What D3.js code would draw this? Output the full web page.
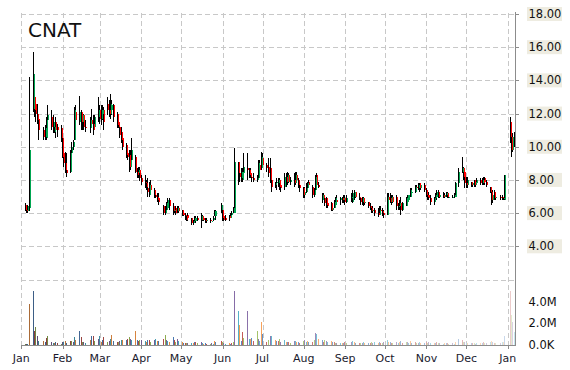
<!DOCTYPE html>
<html>
<head>
<meta charset="utf-8">
<script src="https://cdn.jsdelivr.net/npm/d3@7"></script>
<style>
  body { margin: 0; background: #fff; }
  svg { display: block; }
  text { font-family: "DejaVu Sans", Verdana, sans-serif; }
</style>
</head>
<body>
<svg id="chart" width="570" height="370"></svg>
<script>
const ticker = "CNAT";
const monthLabels = ["Jan", "Feb", "Mar", "Apr", "May", "Jun", "Jul", "Aug", "Sep", "Oct", "Nov", "Dec", "Jan"];
const priceTicks = [4, 6, 8, 10, 12, 14, 16, 18];
const priceGrid = [2, 4, 6, 8, 10, 12, 14, 16, 18];
const volumeTicks = [0, 2, 4];
const volumeTickLabels = ["0.0K", "2.0M", "4.0M"];

// [day, open, high, low, close, volume (millions)]
const jan17 = [[3,6.5,6.6,6.1,6.2,0.12],[4,6.2,6.3,6.0,6.1,0.1],[5,6.1,6.5,6.0,6.4,0.1],[6,6.3,14.2,6.1,9.8,3.8],[9,12.3,15.7,12.1,14.4,5.0],[10,13.0,13.3,11.8,12.2,1.3],[11,12.6,13.0,11.5,12.0,1.66],[12,12.0,12.6,11.4,11.6,0.83],[13,11.7,12.0,10.4,11.0,0.35],[17,11.0,11.2,10.4,10.6,0.4],[18,10.6,11.3,10.4,11.1,0.3],[19,10.5,11.8,10.4,11.6,0.65],[20,11.6,12.5,11.1,11.9,0.8],[23,11.8,12.2,11.0,11.2,0.3],[24,11.2,11.9,10.8,11.5,0.2],[25,10.9,11.3,10.8,11.2,0.15],[26,11.5,11.8,10.5,11.0,0.25],[27,11.2,11.4,10.6,11.0,0.15],[30,11.1,11.3,10.3,10.5,0.12],[31,10.5,10.6,9.3,9.4,0.3]];
const feb17 = [[1,9.6,10.2,8.8,9.0,0.3],[2,9.0,9.7,8.4,8.6,0.35],[3,8.6,9.6,8.2,8.4,0.2],[6,8.5,9.8,8.4,9.6,0.4],[7,9.6,10.3,9.3,10.0,0.35],[8,10.0,10.4,9.8,10.3,0.3],[9,10.4,12.4,10.4,12.2,0.7],[10,12.1,12.5,11.1,11.6,0.45],[13,11.5,13.05,11.3,12.1,1.3],[14,12.1,12.2,11.0,11.5,0.7],[15,11.5,12.1,11.0,11.9,0.3],[16,11.9,12.0,11.0,11.2,0.25],[17,11.2,11.6,10.9,11.1,0.2],[21,11.1,11.8,10.8,11.6,0.5],[22,11.6,12.3,11.2,11.4,0.85],[23,11.4,11.9,10.7,11.0,0.85],[24,11.2,11.9,11.0,11.8,0.4],[27,11.8,13.0,11.5,12.2,0.6],[28,12.2,12.5,11.4,11.7,0.85]];
const mar17 = [[1,11.7,12.5,11.3,12.2,0.3],[2,12.0,12.5,11.6,12.2,0.45],[3,12.2,12.4,11.0,11.5,0.7],[6,12.6,13.0,11.9,12.2,0.3],[7,12.2,12.8,11.8,12.0,0.4],[8,12.0,13.2,11.7,12.6,0.55],[9,12.2,12.8,11.9,12.5,0.9],[10,12.5,12.6,11.5,11.8,0.35],[13,12.0,12.1,11.1,11.3,0.3],[14,11.5,11.9,11.1,11.2,0.25],[15,11.2,11.5,10.5,10.7,0.4],[16,10.9,11.2,10.2,10.4,0.5],[17,10.5,10.7,9.8,10.0,0.45],[20,10.1,10.2,9.3,9.5,0.5],[21,9.6,10.0,9.2,9.4,0.55],[22,9.5,9.8,8.5,8.8,0.7],[23,8.8,9.8,8.6,9.2,0.6],[24,9.2,10.5,9.1,9.8,0.5],[27,9.4,9.5,8.4,8.5,1.3],[28,8.5,8.7,8.1,8.3,0.5],[29,8.4,8.8,8.1,8.6,0.35],[30,8.6,8.8,7.95,8.1,0.45],[31,8.1,8.3,7.7,7.9,0.5]];
const apr17 = [[3,7.9,8.3,7.5,7.8,0.4],[4,7.8,8.0,7.4,7.6,0.3],[5,7.5,8.1,7.0,7.3,0.45],[6,7.1,7.9,7.0,7.7,0.5],[7,7.7,8.0,7.2,7.4,0.3],[10,7.4,7.5,6.9,7.1,0.45],[11,7.1,7.4,6.9,7.0,0.55],[12,7.0,7.2,6.7,6.8,0.4],[13,6.9,7.2,6.5,6.7,0.35],[17,6.4,6.5,5.9,6.0,0.6],[18,6.0,6.4,5.9,6.2,0.9],[19,6.2,6.7,6.1,6.6,0.5],[20,6.3,6.9,6.2,6.8,0.4],[21,6.8,6.9,6.2,6.4,0.3],[24,6.4,6.6,5.9,6.1,0.75],[25,6.1,6.4,6.0,6.2,0.5],[26,6.3,6.4,5.9,6.0,0.3],[27,6.1,6.4,6.0,6.3,0.55],[28,6.3,6.4,6.0,6.1,0.35]];
const may17 = [[1,6.2,6.2,5.8,5.9,0.25],[2,6.0,6.1,5.8,5.9,0.2],[3,5.9,6.0,5.6,5.8,0.15],[4,5.8,5.9,5.5,5.6,0.2],[5,5.9,6.0,5.5,5.7,0.15],[8,5.7,5.7,5.3,5.4,0.2],[9,5.4,5.6,5.3,5.5,0.15],[10,5.5,5.8,5.4,5.7,0.25],[11,5.5,5.8,5.4,5.7,0.3],[12,5.7,5.8,5.5,5.6,0.2],[15,5.6,6.0,5.1,5.8,0.25],[16,5.8,5.9,5.5,5.6,0.15],[17,5.7,5.8,5.5,5.6,0.1],[18,5.6,5.7,5.4,5.5,0.15],[19,5.5,5.7,5.4,5.6,0.1],[22,5.6,5.7,5.4,5.5,0.1],[23,5.5,5.6,5.5,5.55,0.15],[24,5.6,5.8,5.5,5.7,0.1],[25,5.8,6.2,5.8,6.1,0.35],[26,5.8,6.2,5.6,6.1,0.3],[30,6.2,6.6,6.0,6.5,0.4],[31,6.2,6.4,5.5,5.7,0.3]];
const jun17 = [[1,5.8,6.0,5.5,5.6,0.2],[2,5.7,5.9,5.5,5.6,0.1],[5,5.8,5.9,5.5,5.7,0.15],[6,5.7,6.0,5.7,5.9,0.1],[7,5.9,6.1,5.8,6.0,0.15],[8,6.0,6.35,6.0,6.3,0.25],[9,6.0,9.9,6.0,9.1,5.0],[12,9.1,9.1,7.7,8.4,3.1],[13,8.4,8.7,7.9,8.2,1.85],[14,8.1,8.7,7.9,8.5,0.4],[15,8.0,8.7,7.9,8.5,1.2],[16,8.4,9.6,8.0,8.8,0.65],[19,8.7,9.6,8.0,8.6,3.1],[20,8.6,8.7,8.1,8.3,0.6],[21,8.4,8.7,8.1,8.2,0.55],[22,8.2,8.4,7.9,8.1,0.65],[23,8.1,8.4,7.9,8.0,0.4],[26,8.0,8.3,7.9,8.1,1.3],[27,8.1,9.2,8.1,9.0,0.6],[28,8.9,9.2,8.5,8.6,0.4],[29,8.7,9.7,8.6,9.4,2.1],[30,9.3,9.6,8.8,8.9,1.0]];
const jul17 = [[3,8.9,9.0,8.5,8.7,0.3],[5,8.8,9.3,8.2,8.4,0.5],[6,8.7,9.3,7.8,8.0,0.85],[7,8.0,8.4,7.3,7.6,0.85],[10,7.7,7.9,7.5,7.8,0.5],[11,7.8,8.1,7.4,7.9,0.4],[12,7.8,8.1,7.6,8.0,0.35],[13,8.0,8.1,7.4,7.6,0.6],[14,7.7,7.9,7.3,7.5,0.3],[17,7.6,8.4,7.4,8.2,0.45],[18,8.2,8.4,7.6,7.9,0.3],[19,7.9,8.5,7.7,8.3,0.25],[20,8.3,8.4,7.8,7.9,0.3],[21,7.9,8.2,7.7,8.0,0.2],[24,8.0,8.4,7.6,7.8,0.35],[25,7.8,8.5,7.7,8.3,0.4],[26,8.3,8.5,7.8,8.0,0.3],[27,8.0,8.1,7.5,7.7,0.25],[28,7.7,7.8,7.3,7.5,0.2],[31,7.5,7.6,6.9,7.1,0.4]];
const aug17 = [[1,7.1,7.6,6.9,7.3,0.45],[2,7.3,7.8,7.2,7.5,0.3],[3,7.5,7.9,7.3,7.8,0.35],[4,7.9,8.0,7.6,7.7,0.25],[7,7.6,7.7,6.9,7.1,0.3],[8,7.1,7.5,7.0,7.4,0.5],[9,7.4,8.3,7.3,8.2,1.1],[10,8.3,8.4,7.6,7.7,1.0],[11,7.7,7.9,7.5,7.6,0.6],[14,6.8,7.2,6.6,7.1,0.45],[15,7.1,7.2,6.8,6.9,0.3],[16,6.9,7.1,6.4,6.6,0.5],[17,6.9,7.0,6.3,6.5,0.35],[18,6.6,6.8,6.3,6.4,0.3],[21,6.6,6.7,6.1,6.2,0.4],[22,6.2,6.5,6.1,6.3,0.25],[23,6.3,6.8,6.3,6.7,0.3],[24,6.5,7.0,6.4,6.9,0.2],[25,6.8,7.1,6.5,6.7,0.15],[28,6.8,7.0,6.5,6.9,0.2],[29,6.9,7.0,6.6,6.8,0.15],[30,6.8,7.1,6.6,6.9,0.2],[31,6.9,7.1,6.5,6.7,0.25]];
const sep17 = [[1,6.7,7.1,6.6,6.9,0.2],[5,6.9,7.2,6.7,7.0,0.25],[6,6.7,7.4,6.6,7.2,0.4],[7,7.0,7.4,6.8,7.3,0.3],[8,7.3,7.3,6.9,7.0,0.2],[11,7.0,7.2,6.8,6.9,0.15],[12,6.9,7.0,6.5,6.7,0.2],[13,6.7,7.0,6.5,6.9,0.15],[14,6.9,7.0,6.4,6.6,0.25],[15,6.6,6.9,6.5,6.7,0.2],[18,6.7,6.7,6.3,6.4,0.15],[19,6.4,6.6,6.2,6.3,0.2],[20,6.3,6.4,6.0,6.1,0.25],[21,6.2,6.4,6.0,6.2,0.15],[22,6.2,6.3,5.8,6.0,0.3],[25,6.0,6.3,5.75,5.9,0.2],[26,5.9,6.4,5.9,6.2,0.25],[27,6.2,6.4,6.0,6.1,0.15],[28,6.1,6.3,5.8,6.0,0.2],[29,6.0,6.2,5.7,5.9,0.3]];
const oct17 = [[2,5.9,7.2,5.9,7.0,0.5],[3,7.0,7.2,6.6,6.8,0.3],[4,6.9,7.2,6.6,6.7,0.25],[5,6.7,7.1,6.5,7.0,0.2],[6,7.0,7.1,6.6,6.7,0.15],[9,7.0,7.1,6.2,6.4,0.3],[10,6.4,6.6,6.2,6.4,0.2],[11,6.4,6.8,6.2,6.6,0.25],[12,6.6,7.0,5.9,6.2,0.4],[13,6.2,6.7,6.1,6.6,0.2],[16,6.4,7.0,6.4,6.9,0.25],[17,6.7,7.1,6.7,7.1,0.3],[18,6.8,7.1,6.8,7.1,0.2],[19,7.0,7.5,7.0,7.4,0.35],[20,7.2,7.5,7.0,7.3,0.2],[23,7.3,7.7,7.2,7.6,0.25],[24,7.6,7.7,7.3,7.5,0.15],[25,7.5,7.8,7.4,7.7,0.2],[26,7.8,7.8,7.3,7.5,0.3],[27,7.5,7.8,7.4,7.7,0.15],[30,7.7,7.8,7.3,7.4,0.2],[31,7.4,7.5,7.0,7.1,0.25]];
const nov17 = [[1,7.1,7.3,6.8,7.0,0.2],[2,7.1,7.3,6.8,6.9,0.25],[3,6.9,7.1,6.5,6.7,0.15],[6,6.7,7.0,6.5,6.9,0.2],[7,6.9,7.2,6.8,7.1,0.15],[8,7.0,7.4,6.8,7.3,0.3],[9,7.3,7.4,6.9,7.0,0.2],[10,7.0,7.3,6.9,7.1,0.15],[13,7.1,7.3,6.9,7.0,0.1],[14,7.0,7.2,6.9,7.1,0.15],[15,7.1,7.3,7.0,7.2,0.2],[16,7.2,7.3,6.9,7.0,0.15],[17,7.0,7.1,6.9,7.0,0.1],[20,7.0,7.1,6.9,7.0,0.15],[21,7.0,7.2,6.9,7.1,0.1],[22,7.0,7.9,7.0,7.8,0.3],[24,7.8,8.7,7.6,8.5,0.55],[27,8.5,9.4,8.4,8.7,0.5],[28,8.7,8.8,8.0,8.2,0.3],[29,8.5,8.5,7.5,7.8,0.25],[30,7.8,8.2,7.5,7.7,0.2]];
const dec17 = [[1,7.7,8.2,7.5,8.0,0.2],[4,7.9,7.9,7.6,7.7,0.15],[5,7.7,7.9,7.6,7.8,0.2],[6,8.0,8.0,7.6,7.7,0.15],[7,7.7,8.0,7.6,7.9,0.1],[8,7.8,8.1,7.7,8.0,0.15],[11,8.0,8.1,7.7,7.8,0.2],[12,7.8,8.1,7.7,8.0,0.15],[13,8.0,8.2,7.7,7.8,0.3],[14,8.1,8.2,7.7,7.9,0.2],[15,7.9,8.0,7.6,7.7,0.15],[18,7.6,7.6,7.2,7.3,0.25],[19,7.3,7.4,6.5,6.8,0.35],[20,6.8,7.4,6.6,7.1,0.25],[21,7.3,7.4,6.8,6.9,0.2],[22,6.9,7.1,6.8,7.0,0.15],[26,7.0,7.1,6.8,6.9,0.2],[27,7.0,7.1,6.8,6.9,0.25],[28,6.9,7.0,6.8,6.9,0.3],[29,6.8,8.3,6.8,8.3,0.8]];
const jan18 = [[2,11.5,11.8,10.2,10.6,5.0],[3,10.6,10.8,9.4,9.8,2.8],[4,9.8,10.8,9.7,10.6,2.1],[5,10.6,10.9,10.0,10.2,1.2]];

const volumeColors = ["#4F81BD", "#C0504D", "#9BBB59", "#8064A2", "#4BACC6", "#F79646"];
const upColor = "#00A651";
const downColor = "#FF0000";

const months = [
  [2017, 0, jan17], [2017, 1, feb17], [2017, 2, mar17], [2017, 3, apr17],
  [2017, 4, may17], [2017, 5, jun17], [2017, 6, jul17], [2017, 7, aug17],
  [2017, 8, sep17], [2017, 9, oct17], [2017, 10, nov17], [2017, 11, dec17],
  [2018, 0, jan18]
];

const data = months.flatMap(([yr, m, rows]) => rows.map(r => ({
  date: new Date(Date.UTC(yr, m, r[0])),
  open: r[1], high: r[2], low: r[3], close: r[4], volume: r[5]
})));

const plotLeft = 21.3, plotRight = 515.5, plotTop = 14, priceBottom = 279.5, volBottom = 345;
const start = new Date(Date.UTC(2017, 0, 1));
const end = new Date(Date.UTC(2018, 0, 1));

const svg = d3.select("#chart");

const x = d3.scaleUtc().domain([start, end]).range([plotLeft, 507.7]);
const halfDay = (x(new Date(Date.UTC(2017, 0, 2))) - x(start)) / 2;
const y = d3.scaleLinear().domain([2, 18]).range([priceBottom, plotTop]);
const yv = d3.scaleLinear().domain([0, 4]).range([volBottom, 301.7]);

const monthDates = d3.utcMonths(start, new Date(Date.UTC(2018, 0, 2)));

// grid
const grid = svg.append("g")
  .attr("stroke", "#c8c8c8")
  .attr("stroke-dasharray", "5,3")
  .attr("shape-rendering", "crispEdges");

grid.selectAll("line.h")
  .data(priceGrid)
  .join("line")
  .attr("x1", plotLeft)
  .attr("x2", plotRight)
  .attr("y1", d => Math.round(y(d)) + 0.5)
  .attr("y2", d => Math.round(y(d)) + 0.5);

grid.selectAll("line.v")
  .data(monthDates)
  .join("line")
  .attr("x1", d => Math.round(x(d)) + 0.5)
  .attr("x2", d => Math.round(x(d)) + 0.5)
  .attr("y1", plotTop - 1)
  .attr("y2", volBottom);

// volume bars
const t0 = start.getTime(), span = end.getTime() - t0;
const barColor = (d, i) => {
  const base = volumeColors[(i + 2) % volumeColors.length];
  const k = -0.45 + 1.15 * (d.date.getTime() - t0) / span;
  return k < 0
    ? d3.interpolateRgb(base, "#1a1a1a")(-k * 0.8)
    : d3.interpolateRgb(base, "#ffffff")(Math.min(0.75, k));
};

const cx = d => Math.round(x(d.date) + halfDay);

svg.append("g")
  .attr("shape-rendering", "crispEdges")
  .selectAll("rect")
  .data(data)
  .join("rect")
  .attr("x", d => cx(d))
  .attr("width", 1)
  .attr("y", d => yv(d.volume))
  .attr("height", d => volBottom - yv(d.volume))
  .attr("fill", barColor);

// candles
const candles = svg.append("g").attr("shape-rendering", "crispEdges");

candles.selectAll("line")
  .data(data)
  .join("line")
  .attr("x1", d => cx(d) + 0.5)
  .attr("x2", d => cx(d) + 0.5)
  .attr("y1", d => y(d.high))
  .attr("y2", d => y(d.low))
  .attr("stroke", "#000")
  .attr("stroke-width", 1);

candles.selectAll("rect")
  .data(data)
  .join("rect")
  .attr("x", d => cx(d) + 1)
  .attr("width", 1)
  .attr("y", d => y(Math.max(d.open, d.close)))
  .attr("height", d => Math.max(1, Math.abs(y(d.open) - y(d.close))))
  .attr("fill", d => d.close >= d.open ? upColor : downColor);

// axes
const axis = svg.append("g")
  .attr("stroke", "#8c8c8c")
  .attr("shape-rendering", "crispEdges");

axis.append("line")
  .attr("x1", plotRight).attr("x2", plotRight)
  .attr("y1", plotTop - 2).attr("y2", volBottom + 1)
  .attr("stroke-width", 1.5);

axis.append("line")
  .attr("x1", plotLeft).attr("x2", plotRight)
  .attr("y1", volBottom + 0.5).attr("y2", volBottom + 0.5)
  .attr("stroke-width", 1.5);

axis.selectAll("line.mt")
  .data(monthDates)
  .join("line")
  .attr("x1", d => Math.round(x(d)) + 0.5)
  .attr("x2", d => Math.round(x(d)) + 0.5)
  .attr("y1", volBottom)
  .attr("y2", volBottom + 4);

axis.selectAll("line.pt")
  .data(priceTicks)
  .join("line")
  .attr("x1", plotRight)
  .attr("x2", plotRight + 3)
  .attr("y1", d => Math.round(y(d)) + 0.5)
  .attr("y2", d => Math.round(y(d)) + 0.5);

// price labels
const pl = svg.append("g").selectAll("g")
  .data(priceTicks)
  .join("g")
  .attr("transform", d => `translate(527,${y(d)})`);

pl.append("rect")
  .attr("x", 0).attr("y", -7)
  .attr("width", 35).attr("height", 14)
  .attr("fill", "#EEECE1");

pl.append("text")
  .attr("x", 1.5)
  .attr("y", 4)
  .attr("font-size", 11.5)
  .attr("fill", "#111")
  .text(d => d.toFixed(2));

// volume labels
svg.append("g").selectAll("text")
  .data(volumeTicks)
  .join("text")
  .attr("x", 528.5)
  .attr("y", d => yv(d) + 4)
  .attr("font-size", 11.5)
  .attr("fill", "#111")
  .text((d, i) => volumeTickLabels[i]);

// month labels
svg.append("g").selectAll("text")
  .data(monthDates)
  .join("text")
  .attr("x", d => x(d))
  .attr("y", 362)
  .attr("text-anchor", "middle")
  .attr("font-size", 11)
  .attr("fill", "#1a1a2e")
  .text((d, i) => monthLabels[i]);

// title
svg.append("text")
  .attr("x", 28)
  .attr("y", 37)
  .attr("font-size", 20)
  .attr("fill", "#111")
  .text(ticker);
</script>
</body>
</html>
